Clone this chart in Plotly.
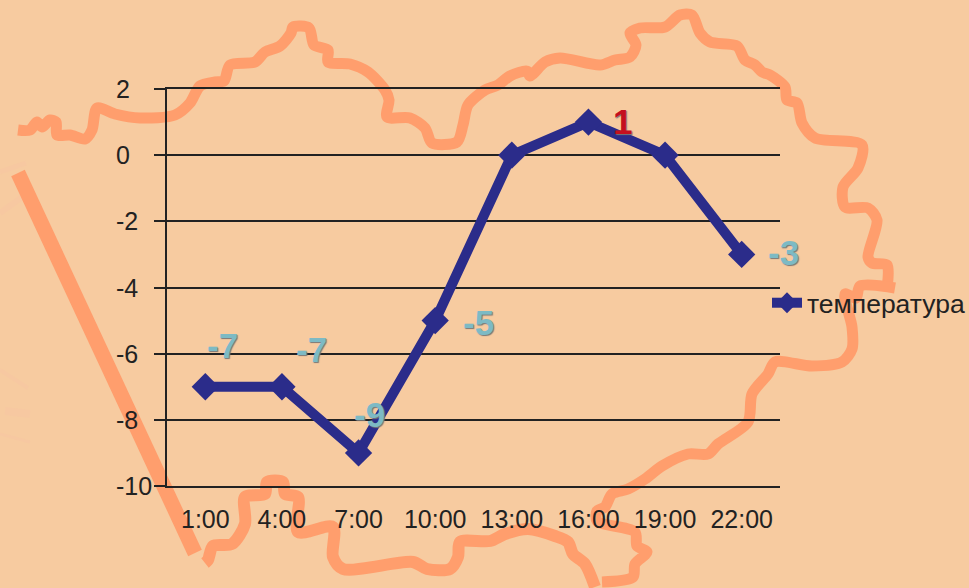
import plotly.graph_objects as go

hours = ["1:00", "4:00", "7:00", "10:00", "13:00", "16:00", "19:00", "22:00"]
temperature = [-7, -7, -9, -5, 0, 1, 0, -3]
y_ticks = [2, 0, -2, -4, -6, -8, -10]
y_tick_labels = ["2", "0", "-2", "-4", "-6", "-8", "-10"]
series_name = "температура"

# Decorative map border of the backdrop (pixel space of the image)
border_x = [18, 30, 37, 42, 50, 56, 57, 70, 85, 92, 97, 115, 140, 175, 190, 200, 215, 224, 230, 255, 265, 280, 291, 293,
            309, 314, 328, 328, 350, 368, 385, 389, 387, 410, 425, 432, 457, 463, 468, 485, 498, 510, 527, 530, 545,
            560, 600, 615, 630, 636, 630, 640, 665, 680, 692, 700, 710, 737, 745, 755, 762, 770, 785, 787, 797, 802,
            815, 862, 858, 843, 845, 868, 877, 868, 872, 887, 887]
border_y = [130, 130, 122, 127, 120, 122, 135, 135, 139, 130, 108, 114, 118, 115, 103, 86, 82, 81, 65, 62, 52, 46, 33, 27,
            28, 45, 50, 62, 64, 72, 90, 100, 117, 118, 128, 143, 142, 125, 105, 90, 85, 76, 71, 76, 62,
            58, 65, 60, 57, 45, 33, 28, 27, 15, 15, 33, 42, 46, 60, 65, 72, 75, 87, 100, 103, 123,
            138, 145, 168, 187, 207, 208, 220, 257, 263, 265, 288]
border2_x = [895, 860, 856, 845, 852, 852, 842, 812, 775, 768, 752, 748, 718, 708, 688, 662, 645, 628, 612, 605, 597, 597,
             635, 637, 647, 635, 633, 602]
border2_y = [288, 286, 298, 294, 327, 349, 362, 366, 362, 374, 394, 422, 444, 454, 454, 466, 479, 489, 494, 507, 511, 521,
             532, 546, 552, 564, 577, 582]
border3_x = [595, 585, 573, 568, 555, 528, 505, 490, 460, 458, 450, 427, 413, 343, 333, 333, 298, 298, 285, 283, 267, 265,
             245, 245, 232, 213, 208, 205]
border3_y = [587, 564, 554, 542, 536, 529, 534, 541, 542, 557, 569, 569, 562, 569, 557, 527, 532, 497, 494, 482, 482, 494,
             497, 524, 544, 546, 560, 563]
edge_x = [18, 195]
edge_y = [173, 553]

# Faint smudges at the left edge of the backdrop
smudge_a_x = [0, 26]
smudge_a_y = [172, 163]
smudge_b_x = [0, 32]
smudge_b_y = [213, 190]
smudge_c_x = [0, 28]
smudge_c_y = [370, 388]
smudge_d_x = [5, 30]
smudge_d_y = [411, 414]
smudge_e_x = [0, 30]
smudge_e_y = [434, 442]

label_dx = [17, 30, 11, 43, None, 34, None, 42]
label_dy = [41, 37, 38, -2, None, 1, None, 2]

BG = "#F7CBA0"
BORDER = "#FF9E6D"
SMUDGE = "#F7C8A1"
NAVY = "#2B2C8A"
INK = "#222222"
FONT = "Liberation Sans"

fig = go.Figure()
for sx, sy, w in [(smudge_a_x, smudge_a_y, 5), (smudge_b_x, smudge_b_y, 6), (smudge_c_x, smudge_c_y, 4),
                  (smudge_d_x, smudge_d_y, 8), (smudge_e_x, smudge_e_y, 3)]:
    fig.add_trace(go.Scatter(x=sx, y=sy, mode="lines", showlegend=False, hoverinfo="skip",
                             line=dict(color=SMUDGE, width=w), xaxis="x", yaxis="y"))
for bx, by, w in [(border_x, border_y, 11), (border2_x, border2_y, 11), (border3_x, border3_y, 12), (edge_x, edge_y, 15)]:
    fig.add_trace(go.Scatter(x=bx, y=by, mode="lines", showlegend=False, hoverinfo="skip",
                             line=dict(color=BORDER, width=w, shape="spline", smoothing=0.8 if w != 15 else 0),
                             xaxis="x", yaxis="y"))

fig.add_trace(go.Scatter(x=hours, y=temperature, mode="lines+markers", name=series_name,
                         line=dict(color=NAVY, width=10),
                         marker=dict(symbol="diamond", size=21, color=NAVY),
                         xaxis="x2", yaxis="y2"))

annotations = []
for h, t, dx, dy in zip(hours, temperature, label_dx, label_dy):
    if dx is None:
        continue
    annotations.append(dict(x=h, y=t, xref="x2", yref="y2", text=str(t), showarrow=False,
                            xshift=dx, yshift=dy,
                            font=dict(family=FONT, size=35, weight="bold",
                                      color="#C4101E" if t > 0 else "#7DBAC4",
                                      shadow="1px 1px 1px #777777")))
# The value axis labels are left-aligned in the original
for v, txt in zip(y_ticks, y_tick_labels):
    annotations.append(dict(x=115 / 969, y=v, xref="paper", yref="y2", text=txt, showarrow=False,
                            xanchor="left", yanchor="middle", borderpad=0,
                            font=dict(family=FONT, size=25, color=INK)))

fig.update_layout(
    width=969, height=588, autosize=False,
    margin=dict(l=0, r=0, t=0, b=0, autoexpand=False),
    paper_bgcolor=BG, plot_bgcolor="rgba(0,0,0,0)",
    font=dict(family=FONT, color=INK),
    annotations=annotations,
    showlegend=True,
    legend=dict(x=767 / 969, y=1 - 303 / 588, xanchor="left", yanchor="middle",
                bgcolor="rgba(0,0,0,0)", font=dict(size=26.5, family=FONT, color=INK),
                itemwidth=30),
    xaxis=dict(domain=[0, 1], range=[0, 969], visible=False, fixedrange=True),
    yaxis=dict(domain=[0, 1], range=[588, 0], visible=False, fixedrange=True),
    xaxis2=dict(domain=[167 / 969, 780 / 969], anchor="y2", type="category", categoryorder="array",
                categoryarray=hours, range=[-0.5, 7.5], showgrid=False, showline=True, mirror=True,
                linecolor="#222222", linewidth=2, ticks="",
                ticklabelstandoff=10, tickfont=dict(size=25, color=INK, family=FONT), zeroline=False),
    yaxis2=dict(domain=[1 - 486 / 588, 1 - 89 / 588], anchor="x2", range=[-10, 2], tickvals=y_ticks,
                showticklabels=False,
                showgrid=True, gridcolor="#222222", gridwidth=2, zeroline=False,
                showline=True, linecolor="#222222", linewidth=2, ticks="outside", ticklen=11,
                tickcolor="#222222", tickwidth=2),
)
fig.write_html("out.html", config={"displayModeBar": False},
               post_script="document.body.style.margin='0';document.documentElement.style.background='#F7CBA0';")
